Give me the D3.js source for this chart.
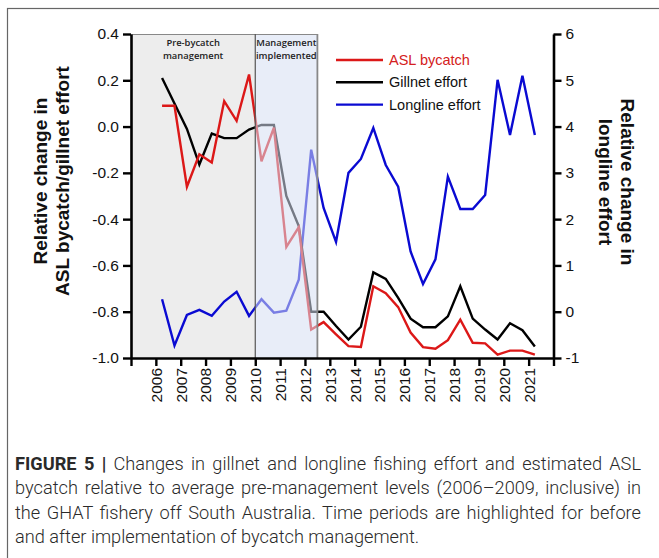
<!DOCTYPE html>
<html><head><meta charset="utf-8">
<script src="https://cdn.jsdelivr.net/npm/d3@7"></script>
<style>body{margin:0;background:#fff} svg{display:block}</style>
</head><body><svg id="c" width="659" height="558"></svg>
<script>
// ---- data ----
const periods = [2006.25, 2006.75, 2007.25, 2007.75, 2008.25, 2008.75, 2009.25, 2009.75,
  2010.25, 2010.75, 2011.25, 2011.75, 2012.25, 2012.75, 2013.25, 2013.75, 2014.25, 2014.75,
  2015.25, 2015.75, 2016.25, 2016.75, 2017.25, 2017.75, 2018.25, 2018.75, 2019.25, 2019.75,
  2020.25, 2020.75, 2021.25];
const aslBycatch = [0.09, 0.09, -0.26, -0.12, -0.155, 0.11, 0.025, 0.225,
  -0.15, -0.005, -0.52, -0.435, -0.877, -0.845, -0.898, -0.949, -0.952, -0.69,
  -0.72, -0.78, -0.89, -0.953, -0.96, -0.923, -0.834, -0.934, -0.937, -0.985,
  -0.968, -0.968, -0.985];
const gillnetEffort = [0.21, 0.10, -0.01, -0.164, -0.03, -0.05, -0.05, -0.013,
  0.007, 0.007, -0.30, -0.43, -0.80, -0.80, -0.862, -0.92, -0.865, -0.63,
  -0.658, -0.74, -0.83, -0.867, -0.867, -0.82, -0.69, -0.83, -0.877, -0.92,
  -0.85, -0.88, -0.95];
const longlineEffort = [0.27, -0.73, -0.07, 0.04, -0.09, 0.22, 0.43, -0.09,
  0.27, -0.02, 0.02, 0.69, 3.5, 2.24, 1.51, 3.0, 3.3, 3.97,
  3.17, 2.7, 1.3, 0.6, 1.13, 2.92, 2.22, 2.22, 2.52, 5.01,
  3.82, 5.1, 3.82];
const yearTicks = [2005, 2006, 2007, 2008, 2009, 2010, 2011, 2012, 2013, 2014, 2015, 2016, 2017, 2018, 2019, 2020, 2021, 2022];
const yearLabels = [2006, 2007, 2008, 2009, 2010, 2011, 2012, 2013, 2014, 2015, 2016, 2017, 2018, 2019, 2020, 2021];
const leftTicks = [0.4, 0.2, 0.0, -0.2, -0.4, -0.6, -0.8, -1.0];
const rightTicks = [6, 5, 4, 3, 2, 1, 0, -1];
const seriesNames = ["ASL bycatch", "Gillnet effort", "Longline effort"];
const regionStarts = [2005, 2010];
const regionEnds = [2010, 2012.5];
const regionLabels = [["Pre-bycatch", "management"], ["Management", "implemented"]];
const captionBold = "FIGURE 5 |";
const captionLines = [
  " Changes in gillnet and longline fishing effort and estimated ASL",
  "bycatch relative to average pre-management levels (2006\u20132009, inclusive) in",
  "the GHAT fishery off South Australia. Time periods are highlighted for before",
  "and after implementation of bycatch management."
];

// ---- drawing ----
const svg = d3.select("#c");
const FONT = "Liberation Sans, Arial, sans-serif";
const RED = "#dc1818", BLACK = "#000", BLUE = "#0a0ad2";

svg.append("rect").attr("x", 7.5).attr("y", 8.5).attr("width", 700).attr("height", 600)
  .attr("fill", "none").attr("stroke", "#666").attr("stroke-width", 1.2);

const x = d3.scaleLinear().domain([2005, 2022]).range([131, 553.5]);
const yL = d3.scaleLinear().domain([-1, 0.4]).range([358, 34]);
const yR = d3.scaleLinear().domain([-1, 6]).range([358, 34]);

// pre-management region (below lines)
svg.append("rect").attr("x", x(regionStarts[0])).attr("y", yL(0.4))
  .attr("width", x(regionEnds[0]) - x(regionStarts[0])).attr("height", yL(-1) - yL(0.4))
  .attr("fill", "#ededed");

const lineL = d3.line().x((d, i) => x(periods[i])).y(d => yL(d));
const lineR = d3.line().x((d, i) => x(periods[i])).y(d => yR(d));

svg.append("path").datum(longlineEffort).attr("d", lineR).attr("fill", "none")
  .attr("stroke", BLUE).attr("stroke-width", 2.4);
svg.append("path").datum(gillnetEffort).attr("d", lineL).attr("fill", "none")
  .attr("stroke", BLACK).attr("stroke-width", 2.4);
svg.append("path").datum(aslBycatch).attr("d", lineL).attr("fill", "none")
  .attr("stroke", RED).attr("stroke-width", 2.4);

// management region overlay (above lines)
svg.append("rect").attr("x", x(regionStarts[1])).attr("y", yL(0.4))
  .attr("width", x(regionEnds[1]) - x(regionStarts[1])).attr("height", yL(-1) - yL(0.4))
  .attr("fill", "rgb(213,222,242)").attr("fill-opacity", 0.55);

// region borders
svg.append("line").attr("x1", x(2005)).attr("x2", x(regionEnds[1])).attr("y1", yL(0.4) + 0.5).attr("y2", yL(0.4) + 0.5)
  .attr("stroke", "#888").attr("stroke-width", 1.2);
svg.append("line").attr("x1", x(regionEnds[0])).attr("x2", x(regionEnds[0])).attr("y1", yL(0.4)).attr("y2", yL(-1))
  .attr("stroke", "#555").attr("stroke-width", 1.2);
svg.append("line").attr("x1", x(regionEnds[1])).attr("x2", x(regionEnds[1])).attr("y1", yL(0.4)).attr("y2", yL(-1))
  .attr("stroke", "#888").attr("stroke-width", 1.8);

regionLabels.forEach((lab, k) => {
  const cx = (x(regionStarts[k]) + x(regionEnds[k])) / 2;
  lab.forEach((t, j) => {
    svg.append("text").attr("x", cx).attr("y", 46 + j * 12.5).attr("text-anchor", "middle")
      .attr("font-family", "Open Sans, sans-serif").attr("font-size", 9.4).attr("font-weight", 600)
      .attr("fill", "#222").text(t);
  });
});

// axes
function styleAxis(g) {
  g.select(".domain").attr("stroke", "#000").attr("stroke-width", 2.6);
  g.selectAll(".tick line").attr("stroke", "#000").attr("stroke-width", 2.4);
  g.selectAll(".tick text").attr("font-family", FONT).attr("font-size", 15.5).attr("fill", "#111");
}
const gL = svg.append("g").attr("transform", `translate(${x(2005)},0)`)
  .call(d3.axisLeft(yL).tickValues(leftTicks).tickFormat(d => d.toFixed(1)).tickSize(8).tickSizeOuter(0).tickPadding(4));
styleAxis(gL);
const gR = svg.append("g").attr("transform", `translate(${x(2022)},0)`)
  .call(d3.axisRight(yR).tickValues(rightTicks).tickFormat(d => String(d)).tickSize(8).tickSizeOuter(0).tickPadding(4));
styleAxis(gR);
const gB = svg.append("g").attr("transform", `translate(0,${yL(-1)})`)
  .call(d3.axisBottom(x).tickValues(yearTicks).tickFormat(d => yearLabels.includes(d) ? String(d) : "").tickSize(8).tickSizeOuter(0));
styleAxis(gB);
gB.selectAll(".tick text").attr("transform", "rotate(-90)").attr("x", -10).attr("y", 0)
  .attr("dy", "0.35em").style("text-anchor", "end");

// legend
const legColors = [RED, BLACK, BLUE];
const legTextColors = ["#d42020", "#111", "#111"];
seriesNames.forEach((n, i) => {
  const yy = 60 + i * 22.3;
  svg.append("line").attr("x1", 336).attr("x2", 383).attr("y1", yy).attr("y2", yy)
    .attr("stroke", legColors[i]).attr("stroke-width", 2.4);
  svg.append("text").attr("x", 389).attr("y", yy).attr("dy", "0.35em")
    .attr("font-family", FONT).attr("font-size", 14.5).attr("fill", legTextColors[i]).text(n);
});

// axis titles
const lt = svg.append("text").attr("transform", "translate(47,181) rotate(-90)")
  .attr("text-anchor", "middle").attr("font-family", FONT).attr("font-weight", "bold")
  .attr("font-size", 19).attr("fill", "#111");
lt.append("tspan").attr("x", 0).attr("y", 0).text("Relative change in");
lt.append("tspan").attr("x", 0).attr("y", 22).text("ASL bycatch/gillnet effort");

const rt = svg.append("text").attr("transform", "translate(621,182) rotate(90)")
  .attr("text-anchor", "middle").attr("font-family", FONT).attr("font-weight", "bold")
  .attr("font-size", 19).attr("fill", "#111");
rt.append("tspan").attr("x", 0).attr("y", 0).text("Relative change in");
rt.append("tspan").attr("x", 0).attr("y", 22).text("longline effort");

// caption: light sans, justified like the journal layout
captionLines.forEach((t, i) => {
  const tx = svg.append("text").attr("x", 15).attr("y", 469.5 + i * 24.5)
    .attr("font-family", "Roboto, sans-serif").attr("font-weight", 300)
    .attr("font-size", 18.2).attr("fill", "#2a2a2a");
  let full = t;
  if (i === 0) { tx.append("tspan").attr("font-weight", 700).text(captionBold); full = captionBold + t; }
  tx.append("tspan").text(t);
  if (i < captionLines.length - 1) {
    const L = tx.node().getComputedTextLength();
    const n = (full.match(/ /g) || []).length;
    tx.attr("word-spacing", ((626 - L) / n).toFixed(2));
  }
});
</script></body></html>
